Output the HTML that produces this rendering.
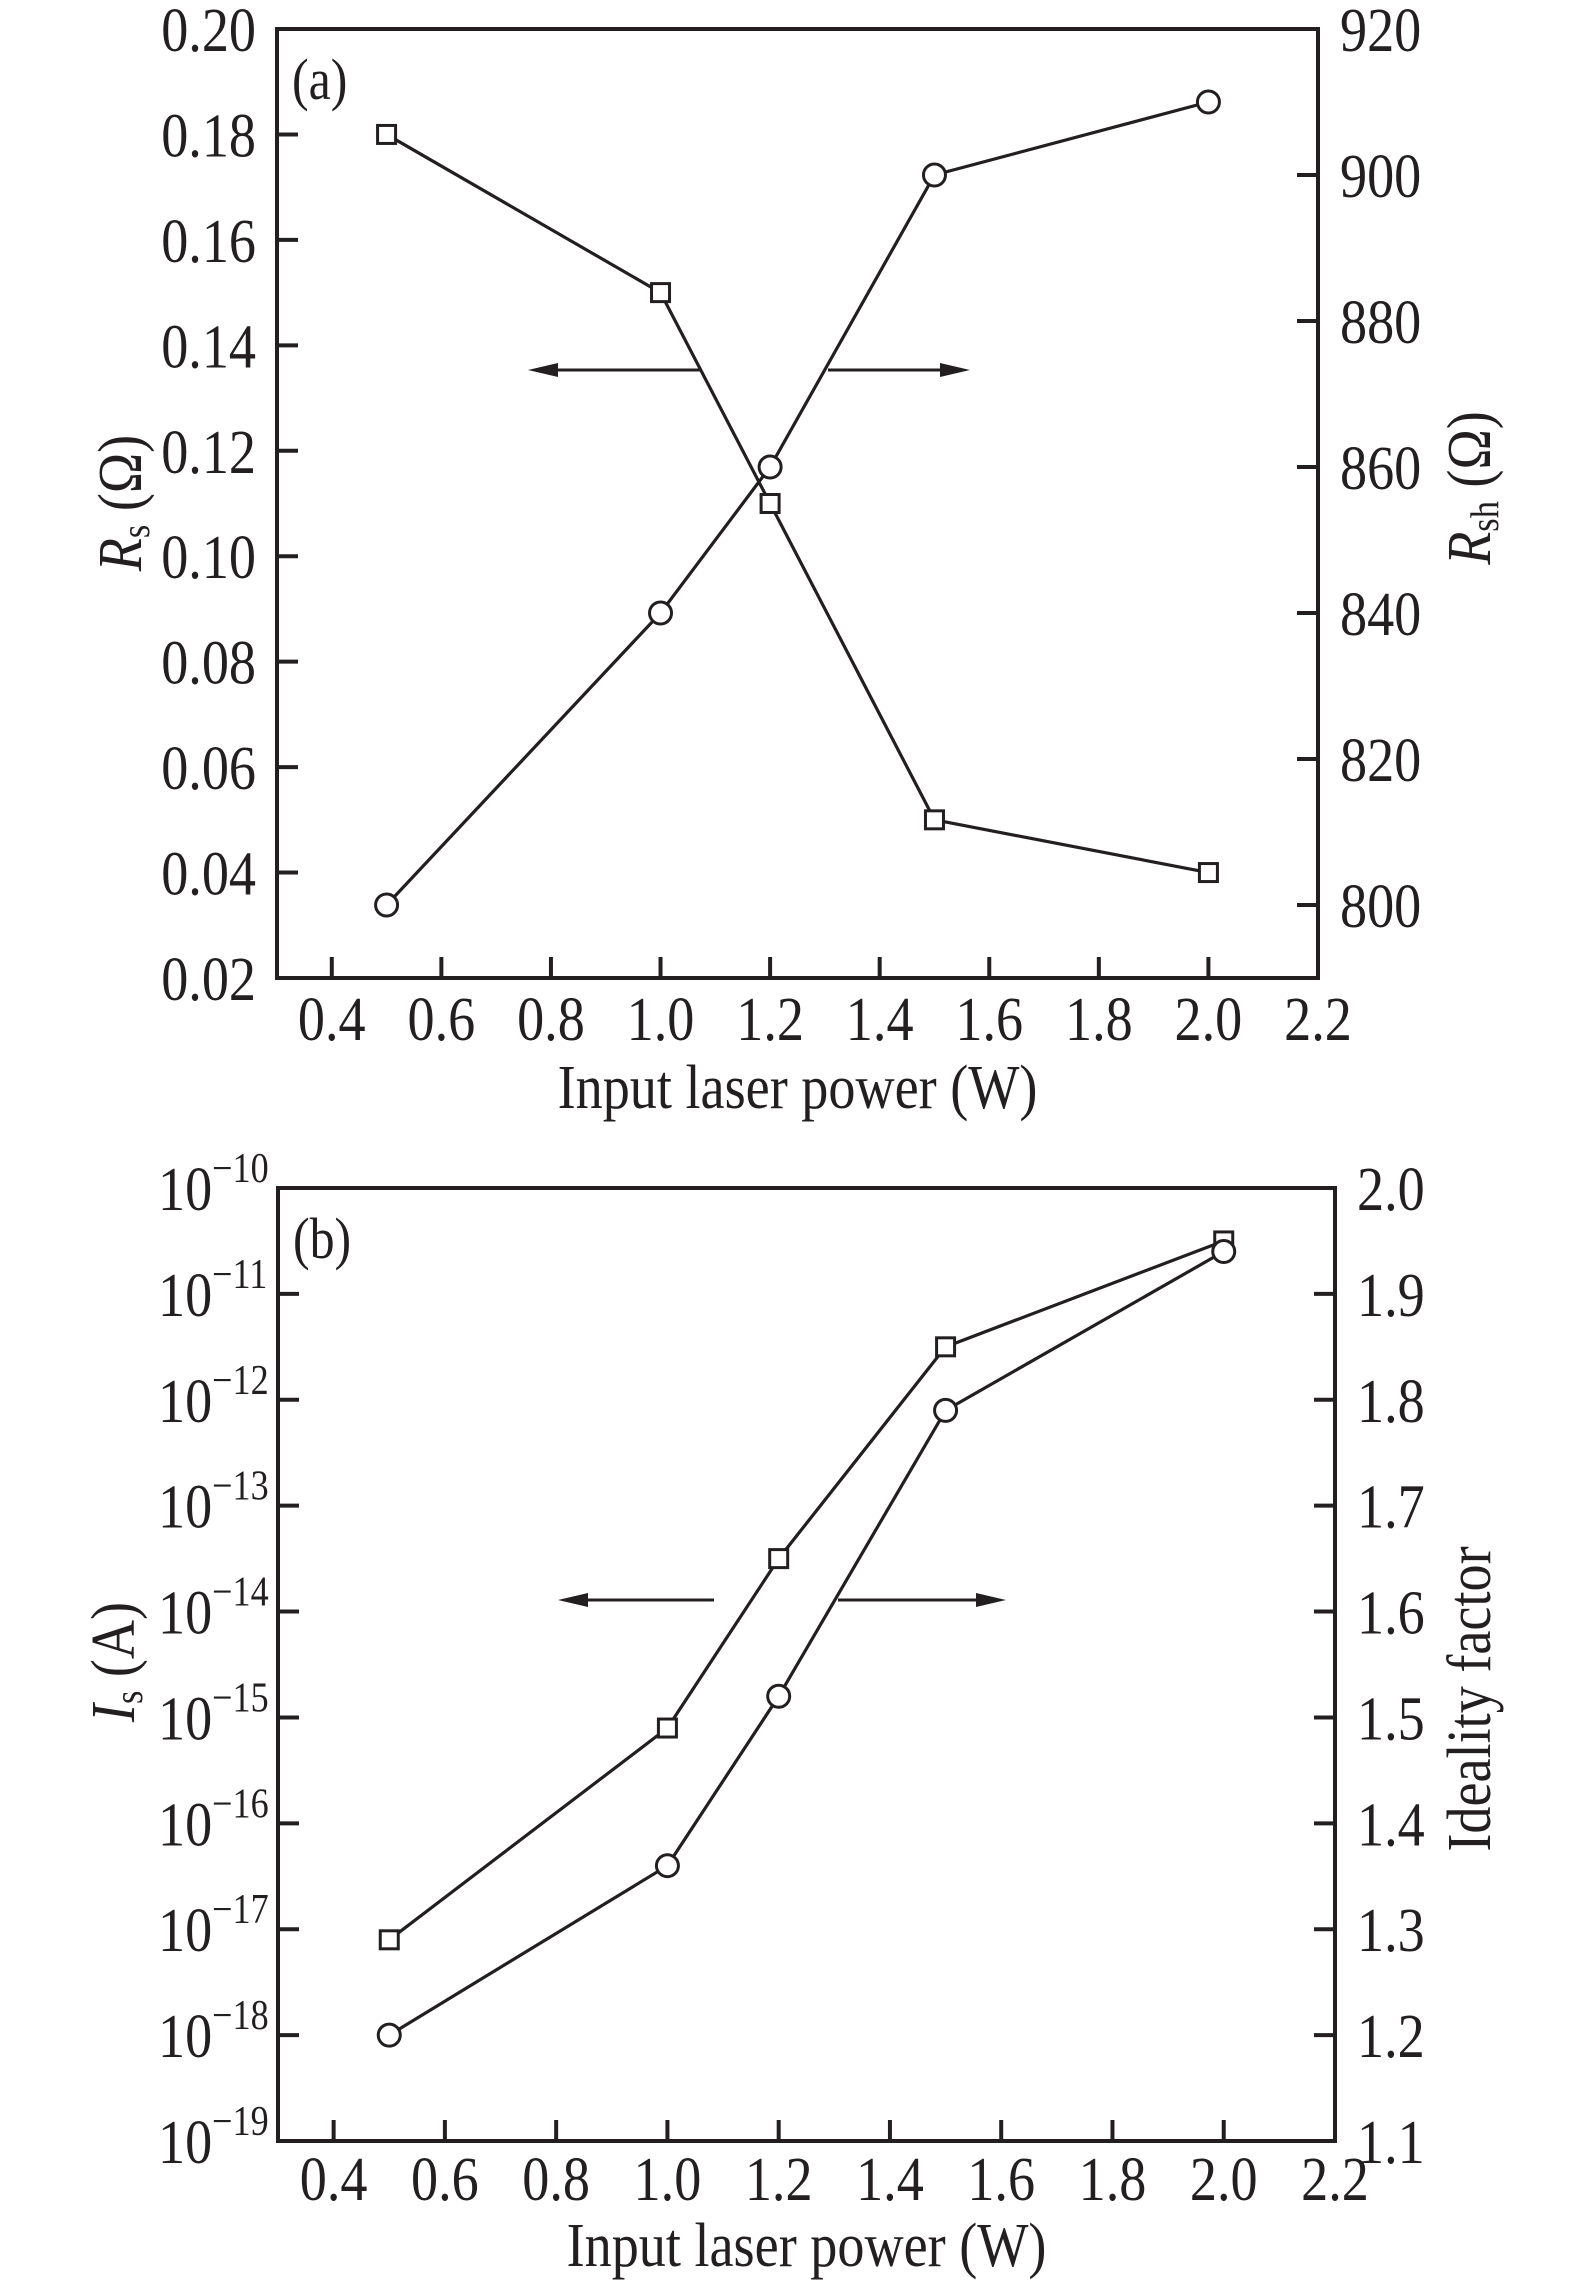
<!DOCTYPE html>
<html><head><meta charset="utf-8">
<style>
html,body{margin:0;padding:0;background:#fff;}
svg{display:block;font-family:"Liberation Serif",serif;}
</style></head>
<body>
<svg id="fig" width="1575" height="2280" viewBox="0 0 1575 2280" xmlns="http://www.w3.org/2000/svg"></svg>
<script>
// Panel (a) data
const aPower = [0.5, 1.0, 1.2, 1.5, 2.0];
const aRs = [0.18, 0.15, 0.11, 0.05, 0.04];
const aRsh = [800, 840, 860, 900, 910];
const aXTicks = [0.4, 0.6, 0.8, 1.0, 1.2, 1.4, 1.6, 1.8, 2.0, 2.2];
const aLeftTicks = [0.02, 0.04, 0.06, 0.08, 0.10, 0.12, 0.14, 0.16, 0.18, 0.20];
const aRightTicks = [800, 820, 840, 860, 880, 900, 920];
// Panel (b) data
const bPower = [0.5, 1.0, 1.2, 1.5, 2.0];
const bIsExp = [-17.1, -15.1, -13.5, -11.5, -10.5];
const bIdeality = [1.2, 1.36, 1.52, 1.79, 1.94];
const bXTicks = [0.4, 0.6, 0.8, 1.0, 1.2, 1.4, 1.6, 1.8, 2.0, 2.2];
const bLeftTicks = [-19, -18, -17, -16, -15, -14, -13, -12, -11, -10];
const bRightTicks = [1.1, 1.2, 1.3, 1.4, 1.5, 1.6, 1.7, 1.8, 1.9, 2.0];

const NS = "http://www.w3.org/2000/svg";
const svg = document.getElementById('fig');
const SX = 0.86, FS = 63;
function mk(tag, attrs, parent) {
  const e = document.createElementNS(NS, tag);
  for (const k in attrs) e.setAttribute(k, attrs[k]);
  (parent || svg).appendChild(e);
  return e;
}
function cond(px) { return `translate(${px},0) scale(${SX},1) translate(${-px},0)`; }
function lin(d0, d1, r0, r1) { return v => r0 + (v - d0) * (r1 - r0) / (d1 - d0); }
const STK = '#231f20';

function panel(cfg) {
  const g = mk('g', {});
  
  
  const {L, R, T, B} = cfg;
  const x = lin(0.3, 2.2, L, R);
  const yl = lin(cfg.ly0, cfg.ly1, B, T);
  const yr = lin(cfg.ry0, cfg.ry1, B, T);
  const frame = mk('rect', {x: L, y: T, width: R - L, height: B - T, fill: 'none', stroke: STK, 'stroke-width': 4}, g);
  
  
  cfg.xTicks.forEach(t => {
    const px = x(t);
    const tk = mk('line', {x1: px, x2: px, y1: B, y2: B - 21, stroke: STK, 'stroke-width': 4}, g);
    
    
    const lb = mk('text', {x: px, y: cfg.xLabY, 'font-size': FS, 'text-anchor': 'middle', fill: STK, transform: cond(px)}, g);
    lb.textContent = t.toFixed(1);
    
    
  });
  cfg.leftTicks.forEach(t => {
    const py = yl(t);
    if (py > T + 2 && py < B - 2) {
      const tk = mk('line', {x1: L, x2: L + 21, y1: py, y2: py, stroke: STK, 'stroke-width': 4}, g);
      
      
    }
    const lb = mk('text', {x: 256, y: py + 22, 'font-size': FS, 'text-anchor': 'end', fill: STK, transform: cond(256)}, g);
    cfg.leftFmt(lb, t);
    
    
  });
  cfg.rightTicks.forEach(t => {
    const py = yr(t);
    if (py > T + 2 && py < B - 2) {
      const tk = mk('line', {x1: R, x2: R - 21, y1: py, y2: py, stroke: STK, 'stroke-width': 4}, g);
      
      
    }
    const lx = R + 22;
    const lb = mk('text', {x: lx, y: py + 22, 'font-size': FS, 'text-anchor': 'start', fill: STK, transform: cond(lx)}, g);
    lb.textContent = cfg.rightFmt(t);
    
    
  });
  function series(xs, ys, yfun, shape, nm) {
    const pts = xs.map((v, i) => [x(v), yfun(ys[i])]);
    const pl = mk('polyline', {points: pts.map(p => p.join(',')).join(' '), fill: 'none', stroke: STK, 'stroke-width': 3.2}, g);
    
    
    pts.forEach(p => {
      let m;
      if (shape === 'sq') m = mk('rect', {x: p[0] - 9, y: p[1] - 9, width: 18, height: 18, fill: '#fff', stroke: STK, 'stroke-width': 3}, g);
      else m = mk('circle', {cx: p[0], cy: p[1], r: 11, fill: '#fff', stroke: STK, 'stroke-width': 3}, g);
      
      
    });
  }
  series(cfg.px, cfg.ly, yl, 'sq', cfg.lname);
  series(cfg.px, cfg.ry, yr, 'ci', cfg.rname);
  const ay = cfg.arrowY;
  const a1 = mk('line', {x1: cfg.la[0], x2: cfg.la[1] + 25, y1: ay, y2: ay, stroke: STK, 'stroke-width': 3}, g);
  
  
  const h1 = mk('polygon', {points: `${cfg.la[1]},${ay} ${cfg.la[1] + 30},${ay - 7} ${cfg.la[1] + 30},${ay + 7}`, fill: STK}, g);
  
  
  const a2 = mk('line', {x1: cfg.ra[0], x2: cfg.ra[1] - 25, y1: ay, y2: ay, stroke: STK, 'stroke-width': 3}, g);
  
  
  const h2 = mk('polygon', {points: `${cfg.ra[1]},${ay} ${cfg.ra[1] - 30},${ay - 7} ${cfg.ra[1] - 30},${ay + 7}`, fill: STK}, g);
  
  
  const lx = L + 15;
  const pl = mk('text', {x: lx, y: T + 70, 'font-size': 58, fill: STK, transform: cond(lx)}, g);
  pl.textContent = cfg.label;
  
  
  const cx = (L + R) / 2;
  const xt = mk('text', {x: cx, y: cfg.xTitleY, 'font-size': FS, 'text-anchor': 'middle', fill: STK, transform: cond(cx)}, g);
  xt.textContent = 'Input laser power (W)';
  
  
  return g;
}

function rotTitle(g, cx, cy, build, nm) {
  const t = mk('text', {x: cx, y: cy, 'font-size': FS, 'text-anchor': 'middle', fill: STK,
    transform: `rotate(-90 ${cx} ${cy}) translate(${cx},0) scale(${SX},1) translate(${-cx},0)`}, g);
  build(t);
  
  
}
function tsp(t, txt, attrs) { const s = mk('tspan', attrs || {}, t); s.textContent = txt; return s; }

const ga = panel({
  name: 'panel-a', L: 277, R: 1318, T: 29, B: 978,
  ly0: 0.02, ly1: 0.20, ry0: 790, ry1: 920,
  xTicks: aXTicks, leftTicks: aLeftTicks, rightTicks: aRightTicks,
  leftFmt: (el, t) => { el.textContent = t.toFixed(2); },
  rightFmt: t => String(t),
  px: aPower, ly: aRs, ry: aRsh, lname: 'rs-series', rname: 'rsh-series',
  arrowY: 370, la: [700, 528], ra: [828, 970],
  label: '(a)', xLabY: 1040, xTitleY: 1108
});
rotTitle(ga, 141, 503, t => { tsp(t, 'R', {'font-style': 'italic'}); tsp(t, 's', {'font-size': 40, dy: 8}); tsp(t, ' (Ω)', {dy: -8}); }, 'left-y-axis-title');
rotTitle(ga, 1490, 488, t => { tsp(t, 'R', {'font-style': 'italic'}); tsp(t, 'sh', {'font-size': 40, dy: 8}); tsp(t, ' (Ω)', {dy: -8}); }, 'right-y-axis-title');

const gb = panel({
  name: 'panel-b', L: 278, R: 1335, T: 1188, B: 2141,
  ly0: -19, ly1: -10, ry0: 1.1, ry1: 2.0,
  xTicks: bXTicks, leftTicks: bLeftTicks, rightTicks: bRightTicks,
  leftFmt: (el, t) => { el.setAttribute('text-anchor', 'start'); el.setAttribute('x', 158); el.setAttribute('transform', cond(158)); tsp(el, '10'); tsp(el, '−' + Math.abs(t), {'font-size': 42, dy: -28}); },
  rightFmt: t => t.toFixed(1),
  px: bPower, ly: bIsExp, ry: bIdeality, lname: 'is-series', rname: 'ideality-series',
  arrowY: 1600, la: [714, 558], ra: [838, 1006],
  label: '(b)', xLabY: 2200, xTitleY: 2266
});
rotTitle(gb, 134, 1662, t => { tsp(t, 'I', {'font-style': 'italic'}); tsp(t, 's', {'font-size': 40, dy: 8}); tsp(t, ' (A)', {dy: -8}); }, 'left-y-axis-title');
rotTitle(gb, 1490, 1699, t => { t.textContent = 'Ideality factor'; }, 'right-y-axis-title');
</script>
</body></html>
